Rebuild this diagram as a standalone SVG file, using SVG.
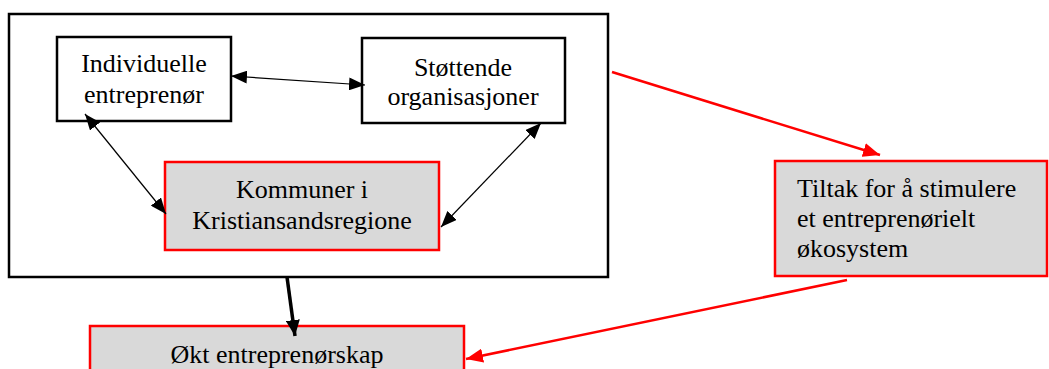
<svg xmlns="http://www.w3.org/2000/svg" width="1049" height="369" viewBox="0 0 1049 369">
<defs>
<style>
text{font-family:"Liberation Serif","Times New Roman",serif;font-size:26px;fill:#000}
.c{text-anchor:middle}
.bk{fill:#fff;stroke:#000;stroke-width:2.5}
.rd{fill:#d9d9d9;stroke:#f00;stroke-width:2.5}
.thin{stroke:#000;stroke-width:1.2;fill:none}
.thick{stroke:#000;stroke-width:3.5;fill:none}
.red{stroke:#f00;stroke-width:2.5;fill:none}
</style>
<marker id="ah" viewBox="0 0 16 13" refX="16" refY="6.5" markerWidth="16" markerHeight="13" markerUnits="userSpaceOnUse" orient="auto-start-reverse"><path d="M0,0L16,6.5L0,13z" fill="#000"/></marker>
<marker id="ahk" viewBox="0 0 16 14" refX="16" refY="7" markerWidth="16" markerHeight="14" markerUnits="userSpaceOnUse" orient="auto"><path d="M0,0L16,7L0,14z" fill="#000"/></marker>
<marker id="ahr" viewBox="0 0 17 14" refX="17" refY="7" markerWidth="17" markerHeight="14" markerUnits="userSpaceOnUse" orient="auto"><path d="M0,0L17,7L0,14z" fill="#f00"/></marker>
</defs>
<g id="outer"><rect class="bk" x="9" y="14" width="599" height="263"/></g>
<g id="individuelle"><rect class="bk" x="57" y="37" width="174" height="84"/><text class="c" x="144" y="72">Individuelle</text><text class="c" x="144" y="103">entreprenør</text></g>
<g id="stottende"><rect class="bk" x="362" y="38" width="203" height="85"/><text class="c" x="463" y="76">Støttende</text><text class="c" x="463" y="105">organisasjoner</text></g>
<g id="kommuner"><rect class="rd" x="165" y="162" width="274" height="88"/><text class="c" x="302" y="198">Kommuner i</text><text class="c" x="302" y="229">Kristiansandsregione</text></g>
<g id="tiltak"><rect class="rd" x="775" y="161" width="272" height="115"/><text x="797" y="197">Tiltak for å stimulere</text><text x="797" y="227">et entreprenørielt</text><text x="797" y="257">økosystem</text></g>
<g id="okt"><rect class="rd" x="90" y="326" width="374" height="60"/><text class="c" x="277" y="363">Økt entreprenørskap</text></g>
<g id="connectors">
<line class="thin" x1="231" y1="76" x2="365" y2="85" marker-start="url(#ah)" marker-end="url(#ah)"/>
<line class="thin" x1="85" y1="114" x2="166" y2="214" marker-start="url(#ah)" marker-end="url(#ah)"/>
<line class="thin" x1="541" y1="123" x2="441" y2="227" marker-start="url(#ah)" marker-end="url(#ah)"/>
<line class="thick" x1="287" y1="277" x2="295" y2="336" marker-end="url(#ahk)"/>
<line class="red" x1="612" y1="72" x2="880" y2="155" marker-end="url(#ahr)"/>
<line class="red" x1="847" y1="280" x2="466" y2="359" marker-end="url(#ahr)"/>
</g>
</svg>
